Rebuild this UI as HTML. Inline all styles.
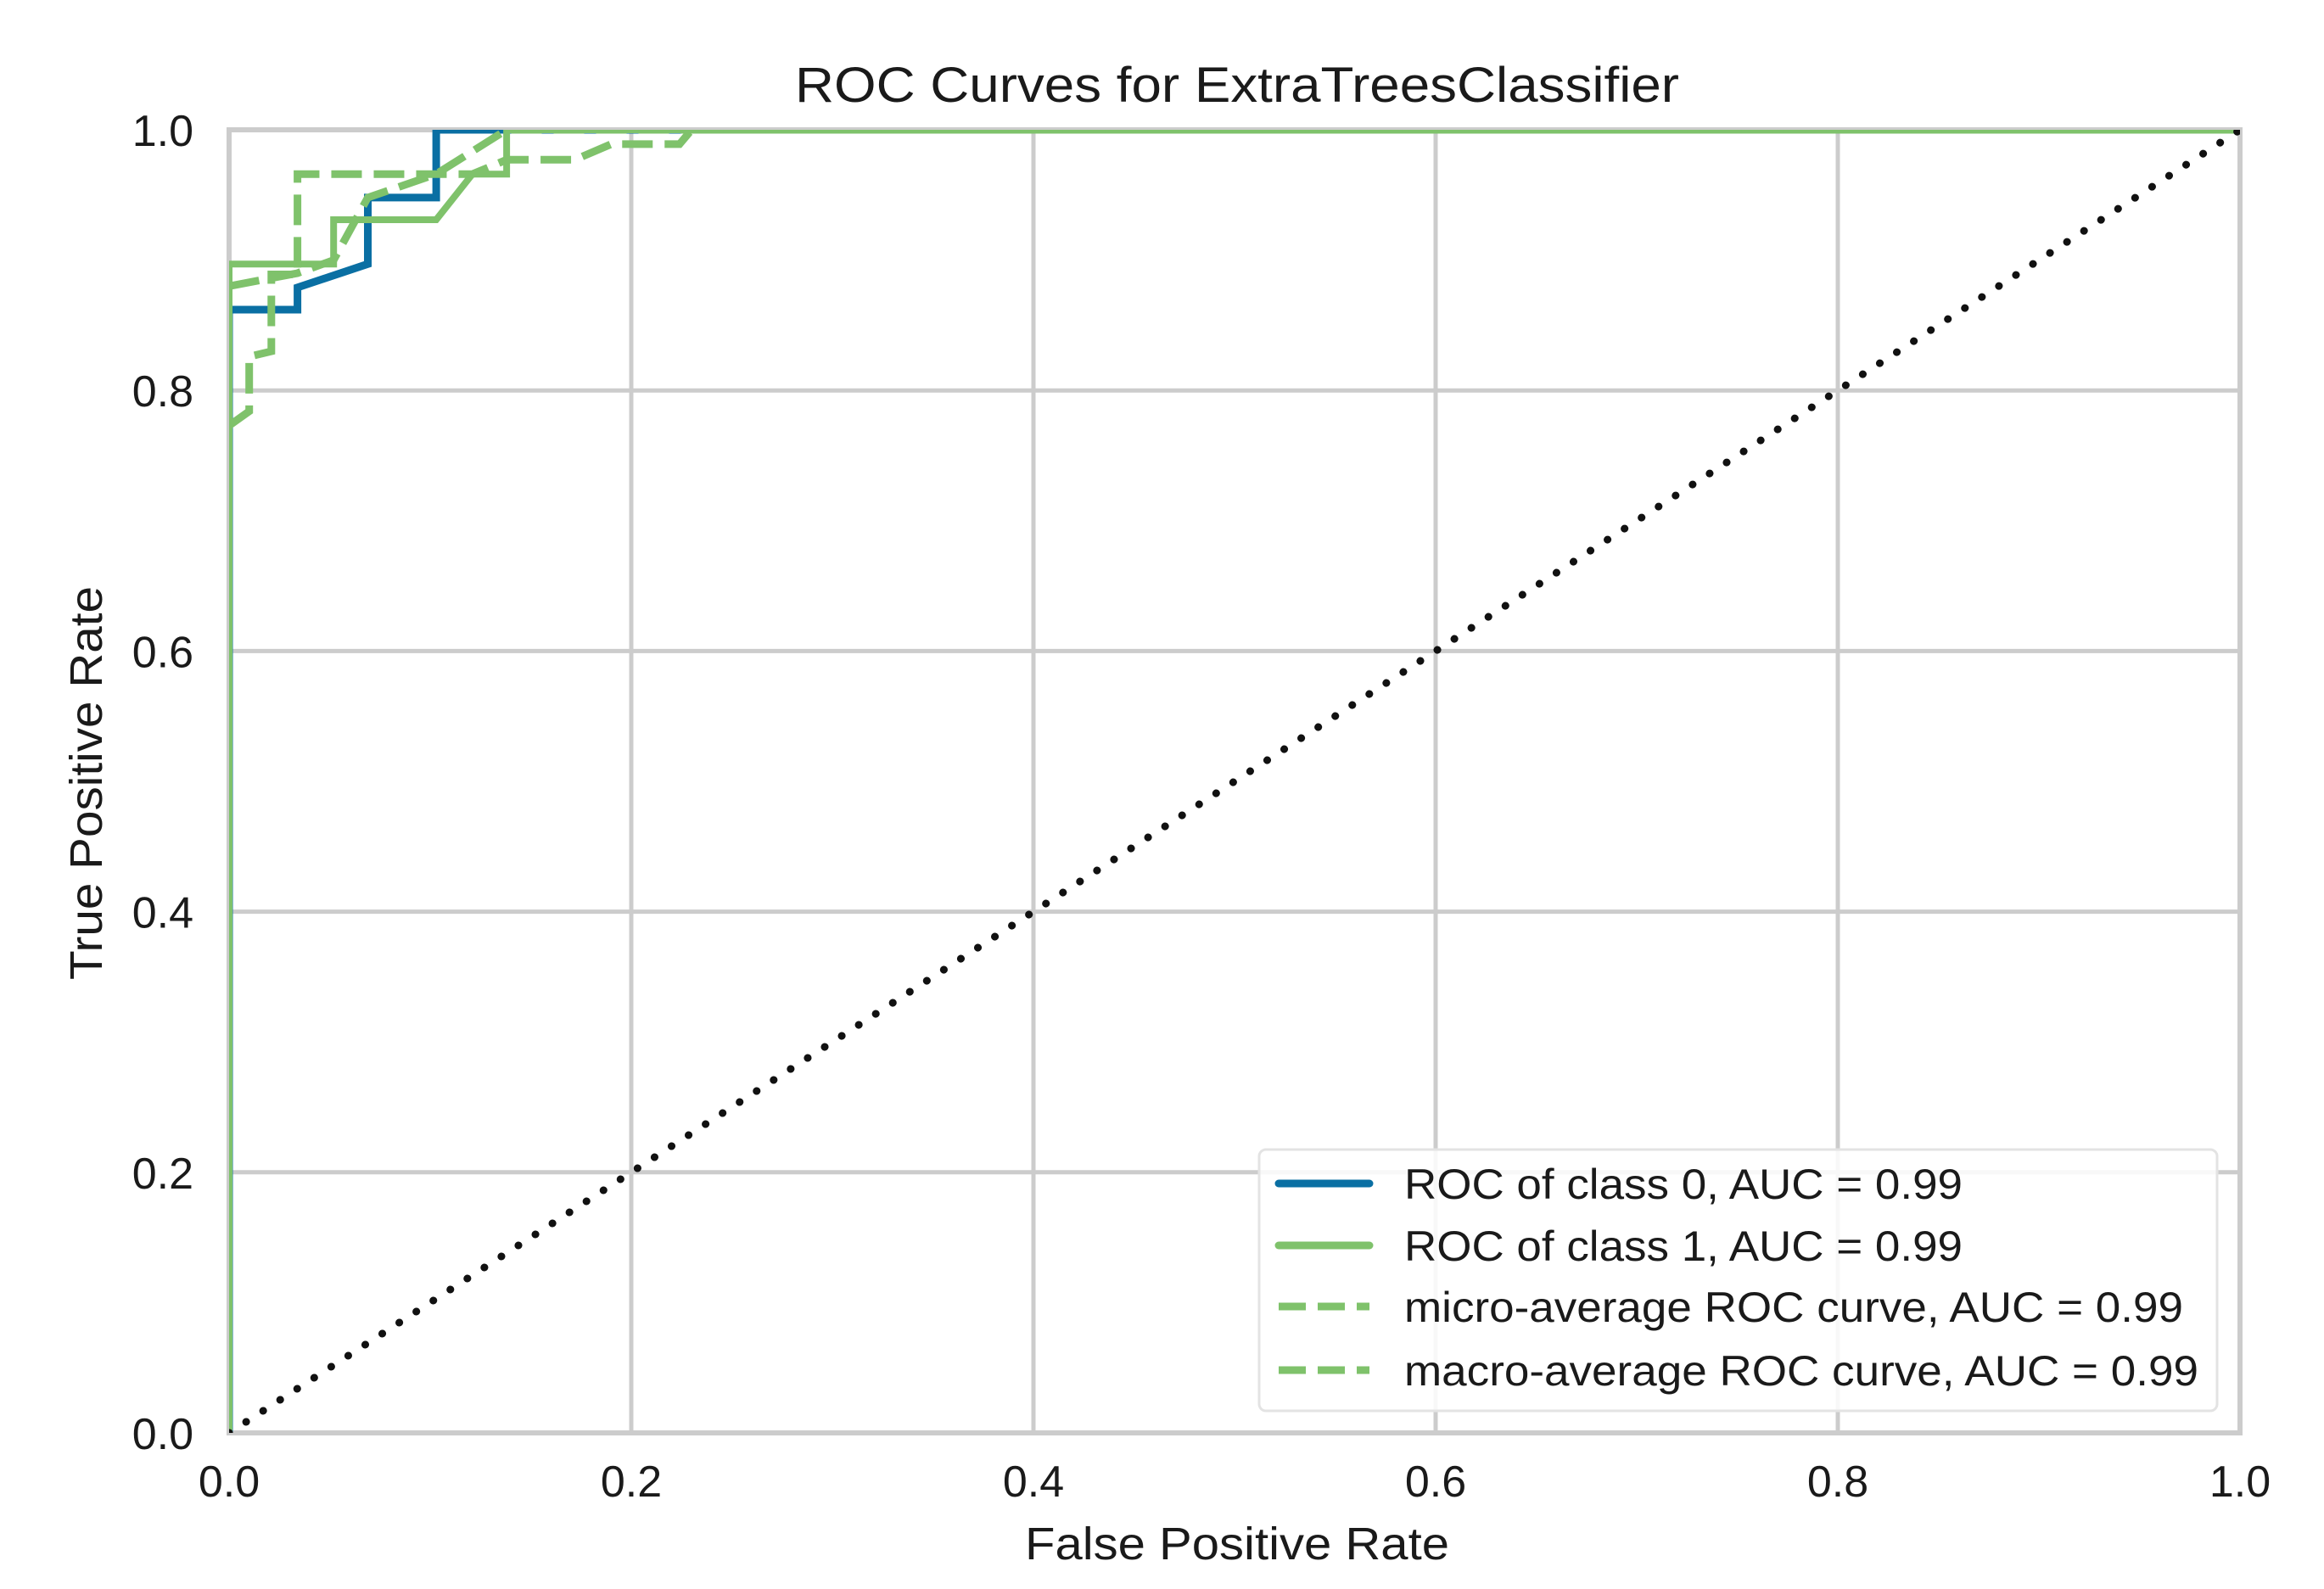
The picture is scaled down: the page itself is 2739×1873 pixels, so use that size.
<!DOCTYPE html>
<html><head><meta charset="utf-8"><style>
html,body{margin:0;padding:0;background:#fff}
svg{display:block;font-family:"Liberation Sans",Arial,sans-serif}
</style></head><body>
<svg id="chart" width="2739" height="1873" viewBox="0 0 2739 1873" xmlns="http://www.w3.org/2000/svg">
<defs><clipPath id="plotclip"><rect x="270" y="153" width="2370" height="1536"/></clipPath></defs>
<rect width="2739" height="1873" fill="#fff"/>
<text x="1458" y="120" font-size="58" text-anchor="middle" fill="#1a1a1a" textLength="1042" lengthAdjust="spacingAndGlyphs">ROC Curves for ExtraTreesClassifier</text>
<g id="grid"></g>
<g id="series" clip-path="url(#plotclip)"></g>
<g id="ticks"></g>
<text x="1458" y="1838" font-size="54" text-anchor="middle" fill="#1a1a1a" textLength="500" lengthAdjust="spacingAndGlyphs">False Positive Rate</text>
<text x="0" y="0" font-size="54" text-anchor="middle" fill="#1a1a1a" transform="translate(120,923) rotate(-90)" textLength="464" lengthAdjust="spacingAndGlyphs">True Positive Rate</text>
<g>
<rect x="1484" y="1355" width="1129" height="308" rx="8" fill="#fff" fill-opacity="0.85" stroke="#e3e3e3" stroke-width="3"/>
<g>
<line x1="1507" y1="1395" x2="1614" y2="1395" stroke="#0a6fa3" stroke-width="9" stroke-linecap="round"/>
<text x="1655" y="1413" font-size="50" fill="#1a1a1a" textLength="658" lengthAdjust="spacingAndGlyphs">ROC of class 0, AUC = 0.99</text></g>
<g>
<line x1="1507" y1="1468" x2="1614" y2="1468" stroke="#7fc26b" stroke-width="9" stroke-linecap="round"/>
<text x="1655" y="1486" font-size="50" fill="#1a1a1a" textLength="658" lengthAdjust="spacingAndGlyphs">ROC of class 1, AUC = 0.99</text></g>
<g>
<line x1="1507" y1="1540" x2="1614" y2="1540" stroke="#7fc26b" stroke-width="9" stroke-dasharray="32 14"/>
<text x="1655" y="1558" font-size="50" fill="#1a1a1a" textLength="918" lengthAdjust="spacingAndGlyphs">micro-average ROC curve, AUC = 0.99</text></g>
<g>
<line x1="1507" y1="1615" x2="1614" y2="1615" stroke="#7fc26b" stroke-width="9" stroke-dasharray="32 14"/>
<text x="1655" y="1633" font-size="50" fill="#1a1a1a" textLength="936" lengthAdjust="spacingAndGlyphs">macro-average ROC curve, AUC = 0.99</text></g>
</g>
</svg>
<script>
const xTicks=[0,0.2,0.4,0.6,0.8,1.0];
const yTicks=[0,0.2,0.4,0.6,0.8,1.0];
const xTickLabels=["0.0","0.2","0.4","0.6","0.8","1.0"];
const yTickLabels=["0.0","0.2","0.4","0.6","0.8","1.0"];
const class0X=[0,0,0.034,0.034,0.069,0.069,0.103,0.103,1];
const class0Y=[0,0.862,0.862,0.879,0.897,0.948,0.948,1,1];
const class1X=[0,0,0.052,0.052,0.103,0.121,0.138,0.138,1];
const class1Y=[0,0.897,0.897,0.931,0.931,0.966,0.966,1,1];
const microX=[0,0.010,0.010,0.021,0.021,0.034,0.034,0.121,0.138,0.172,0.19,0.224,0.23,1];
const microY=[0.773,0.784,0.826,0.83,0.889,0.889,0.966,0.966,0.977,0.977,0.989,0.989,1,1];
const macroX=[0,0.034,0.052,0.069,0.103,0.138,1];
const macroY=[0.88,0.89,0.9,0.948,0.966,1,1];
const diagX=[0,1];
const diagY=[0,1];

const X0=270,X1=2640,Y0=1689,Y1=153;
const sx=v=>X0+(X1-X0)*v;
const sy=v=>Y0-(Y0-Y1)*v;
const NS="http://www.w3.org/2000/svg";
const grid=document.getElementById('grid');
const series=document.getElementById('series');
const ticks=document.getElementById('ticks');
function mk(tag,attrs,parent){const e=document.createElementNS(NS,tag);for(const k in attrs)e.setAttribute(k,attrs[k]);parent.appendChild(e);return e;}
xTicks.forEach((v,i)=>{
  const l=mk('line',{x1:sx(v),x2:sx(v),y1:Y1,y2:Y0,stroke:'#cccccc','stroke-width':5},grid);
  
  
  const t=mk('text',{x:sx(v),y:1764,'font-size':52,'text-anchor':'middle',fill:'#1a1a1a'},ticks);
  t.textContent=xTickLabels[i];
  
  
});
yTicks.forEach((v,i)=>{
  const l=mk('line',{x1:X0,x2:X1,y1:sy(v),y2:sy(v),stroke:'#cccccc','stroke-width':5},grid);
  
  
  const t=mk('text',{x:228,y:sy(v)+19,'font-size':52,'text-anchor':'end',fill:'#1a1a1a'},ticks);
  t.textContent=yTickLabels[i];
  
  
});
const frame=mk('rect',{x:X0,y:Y1,width:X1-X0,height:Y0-Y1,fill:'none',stroke:'#cccccc','stroke-width':6},grid);


function line(xs,ys,attrs,name){
  const d=xs.map((x,i)=>(i?'L':'M')+sx(x).toFixed(1)+' '+sy(ys[i]).toFixed(1)).join(' ');
  const p=mk('path',Object.assign({d:d,fill:'none','stroke-linejoin':'miter'},attrs),series);
  
  
}
line(class0X,class0Y,{stroke:'#0a6fa3','stroke-width':9},'class-0-curve');
line(class1X,class1Y,{stroke:'#7fc26b','stroke-width':8},'class-1-curve');
line(microX,microY,{stroke:'#7fc26b','stroke-width':9,'stroke-dasharray':'36 14'},'micro-average-curve');
line(macroX,macroY,{stroke:'#7fc26b','stroke-width':9,'stroke-dasharray':'36 14'},'macro-average-curve');
line(diagX,diagY,{stroke:'#111','stroke-width':9,'stroke-dasharray':'0.1 23.8','stroke-linecap':'round'},'chance-diagonal');
</script>
</body></html>
